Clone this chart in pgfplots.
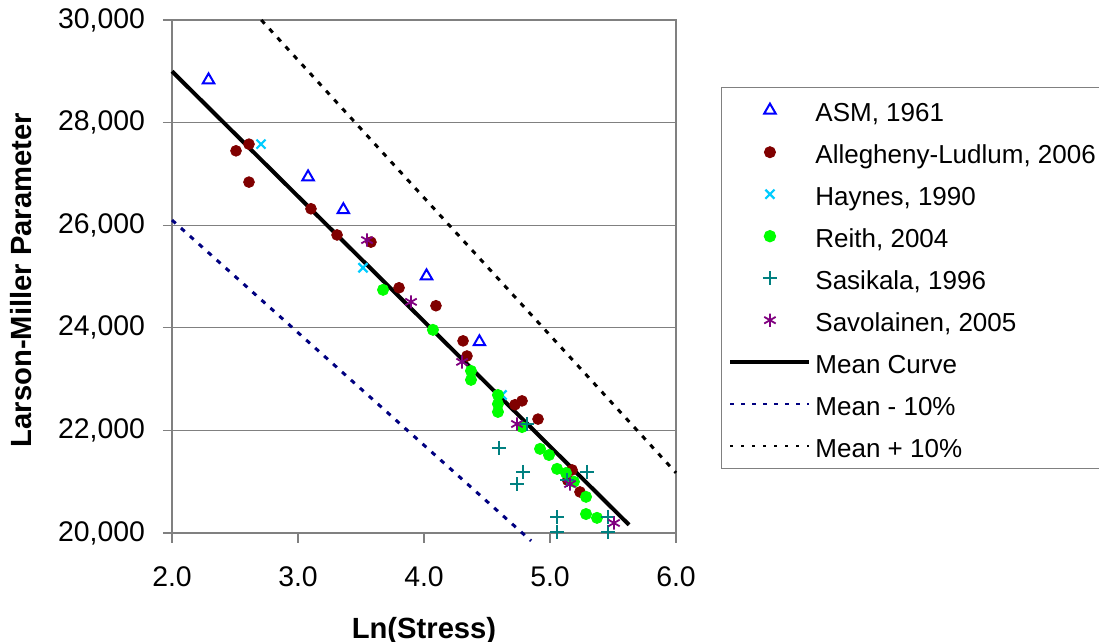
\documentclass[border=0pt]{standalone}
\usepackage{fontspec}
\setmainfont{Liberation Sans}
\usepackage{pgfplots}
\pgfplotsset{compat=1.18}
\definecolor{asmc}{RGB}{0,0,255}
\definecolor{allc}{RGB}{128,0,0}
\definecolor{hayc}{RGB}{0,204,255}
\definecolor{reic}{RGB}{0,255,0}
\definecolor{sasc}{RGB}{0,128,128}
\definecolor{savc}{RGB}{128,0,128}
\definecolor{navyc}{RGB}{0,0,128}
\definecolor{axgray}{RGB}{128,128,128}
\begin{document}
\begin{tikzpicture}
\useasboundingbox (0,0) rectangle (549.5pt,321pt);
\begin{axis}[
  at={(86pt,54.5pt)}, anchor=south west,
  scale only axis, width=252pt, height=256.5pt,
  xmin=2, xmax=6, ymin=20000, ymax=30000,
  xtick={2,3,4,5,6}, ytick={20000,22000,24000,26000,28000,30000},
  clip=false,
  axis line style={axgray, line width=0.6pt},
  tickpos=left, tick align=center, major tick length=9pt,
  tick style={axgray, line width=0.6pt},
  xtick style={/pgfplots/major tick length=5pt, yshift=-2.5pt},
  ymajorgrids, grid style={axgray, line width=0.6pt},
  scaled ticks=false,
  /pgf/number format/assume math mode=true,
  tick label style={font=\fontsize{14.2}{16}\selectfont},
  yticklabel shift=5.5pt,
  yticklabel style={/pgf/number format/.cd, fixed, 1000 sep={,}},
  xticklabel style={/tikz/yshift=-9pt, /pgf/number format/.cd, fixed, fixed zerofill, precision=1},
  xlabel={\textbf{Ln(Stress)}},
  ylabel={\textbf{Larson-Miller Parameter}},
  label style={font=\fontsize{14.6}{16}\selectfont},
  xlabel style={at={(axis description cs:0.5,-0.19)}, anchor=center},
  ylabel style={at={(axis description cs:-0.30,0.493)}, anchor=center},
  legend cell align=left,
  legend image code/.code={\draw[mark repeat=2,mark phase=2,#1] plot coordinates {(0pt,0pt) (19.75pt,0pt) (39.5pt,0pt)};},
  legend style={at={(1.089,0.869)}, anchor=north west, draw=axgray, line width=0.6pt,
    font=\fontsize{13}{15}\selectfont, row sep=4pt, column sep=0pt,
    inner xsep=3.5pt, inner ysep=2.7pt,
    nodes={text height=12pt, text depth=1pt, inner sep=2pt}},
]
% lines first (drawn beneath the markers)
\addplot[forget plot, black, line width=2pt] coordinates {(2.0,29000) (5.627,20160)};
\addplot[forget plot, navyc, line width=1.5pt, dash pattern=on 2.5pt off 3.5pt] coordinates {(2.0,26100) (4.85,19847)};
\addplot[forget plot, black, line width=1.5pt, dash pattern=on 2.5pt off 3.5pt] coordinates {(2.7085,30000) (6.0,21173)};

\addplot[only marks, mark=triangle, mark size=3.3pt, mark options={draw=asmc, line width=1pt}] coordinates {
(2.29,28830) (3.08,26940) (3.36,26300) (4.02,25010) (4.44,23725)};
\addlegendentry{ASM, 1961}
\addplot[only marks, mark=*, mark size=2.7pt, mark options={draw=allc, fill=allc}] coordinates {
(2.508,27450) (2.611,27580) (2.611,26840) (3.103,26320) (3.310,25810) (3.579,25670)
(3.802,24780) (4.095,24430) (4.310,23745) (4.341,23450) (4.722,22500) (4.778,22575)
(4.905,22220) (5.175,21230) (5.140,21030) (5.238,20800)};
\addlegendentry{Allegheny-Ludlum, 2006}
\addplot[only marks, mark=x, mark size=3.2pt, mark options={draw=hayc, line width=1.1pt}] coordinates {
(2.706,27580) (3.516,25170) (4.619,22690)};
\addlegendentry{Haynes, 1990}
\addplot[only marks, mark=*, mark size=2.8pt, mark options={draw=reic, fill=reic}] coordinates {
(3.675,24740) (4.071,23960) (4.373,23160) (4.373,22985) (4.587,22690) (4.587,22515)
(4.587,22360) (4.778,22065) (4.921,21640) (4.992,21520) (5.056,21250) (5.127,21170)
(5.190,21000) (5.286,20705) (5.286,20370) (5.373,20295)};
\addlegendentry{Reith, 2004}
\addplot[only marks, mark=+, mark size=3.5pt, mark options={draw=sasc, line width=0.8pt}] coordinates {
(4.595,21660) (4.786,21190) (4.738,20955) (4.817,22125) (5.294,21190) (5.135,21030)
(5.056,20310) (5.056,20020) (5.460,20310) (5.460,20020)};
\addlegendentry{Sasikala, 1996}
\addplot[only marks, mark=asterisk, mark size=3.3pt, mark options={draw=savc, line width=0.9pt}] coordinates {
(3.548,25710) (3.897,24505) (4.302,23335) (4.738,22125) (5.159,20955) (5.508,20195)};
\addlegendentry{Savolainen, 2005}
\addlegendimage{black, line width=2pt}
\addlegendentry{Mean Curve}
\addlegendimage{navyc, line width=1pt, dash pattern=on 2pt off 3.5pt}
\addlegendentry{Mean - 10\%}
\addlegendimage{black, line width=1pt, dash pattern=on 1.2pt off 4.3pt}
\addlegendentry{Mean + 10\%}
\end{axis}
\end{tikzpicture}
\end{document}
